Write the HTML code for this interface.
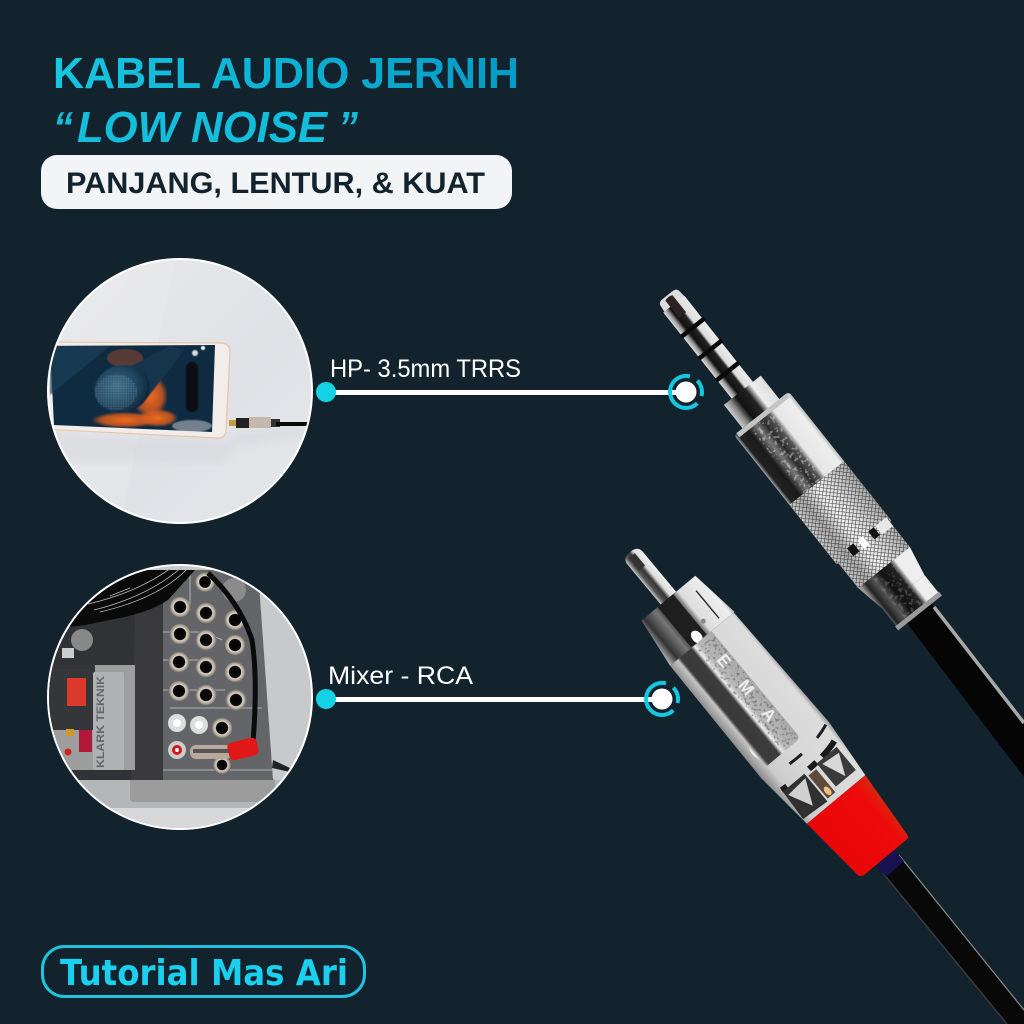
<!DOCTYPE html>
<html><head><meta charset="utf-8"><style>
html,body{margin:0;padding:0;background:#12232d}
svg{display:block}
text{font-family:"Liberation Sans",sans-serif}
</style></head><body>
<svg xmlns="http://www.w3.org/2000/svg" width="1024" height="1024" viewBox="0 0 1024 1024">
<defs>
<linearGradient id="tg" gradientUnits="userSpaceOnUse" x1="53" y1="0" x2="519" y2="0"><stop offset="0" stop-color="#17c6e0"/><stop offset="1" stop-color="#049bc5"/></linearGradient>
<linearGradient id="pin" gradientUnits="userSpaceOnUse" x1="0" y1="-14" x2="0" y2="14"><stop offset="0" stop-color="#eee"/><stop offset=".36" stop-color="#ddd"/><stop offset=".45" stop-color="#222"/><stop offset=".72" stop-color="#111"/><stop offset=".85" stop-color="#999"/><stop offset="1" stop-color="#ddd"/></linearGradient>
<linearGradient id="sleeve" gradientUnits="userSpaceOnUse" x1="0" y1="-24" x2="0" y2="24"><stop offset="0" stop-color="#ddd"/><stop offset=".3" stop-color="#eee"/><stop offset=".45" stop-color="#222"/><stop offset=".7" stop-color="#111"/><stop offset=".85" stop-color="#888"/><stop offset="1" stop-color="#ccc"/></linearGradient>
<linearGradient id="collar" gradientUnits="userSpaceOnUse" x1="0" y1="-35" x2="0" y2="35"><stop offset="0" stop-color="#bbb"/><stop offset=".06" stop-color="#eee"/><stop offset=".34" stop-color="#e6e6e6"/><stop offset=".42" stop-color="#555"/><stop offset=".55" stop-color="#2a2a2a"/><stop offset=".66" stop-color="#777"/><stop offset=".8" stop-color="#1a1a1a"/><stop offset=".95" stop-color="#222"/><stop offset="1" stop-color="#aaa"/></linearGradient>
<linearGradient id="knb" gradientUnits="userSpaceOnUse" x1="0" y1="-35" x2="0" y2="35"><stop offset="0" stop-color="#aaa"/><stop offset=".35" stop-color="#ddd"/><stop offset=".55" stop-color="#f2f2f2"/><stop offset=".8" stop-color="#aaa"/><stop offset="1" stop-color="#ccc"/></linearGradient>
<pattern id="kn" patternUnits="userSpaceOnUse" width="3.6" height="3.6" patternTransform="rotate(45)"><path d="M0 0H3.6M0 0V3.6" stroke="#1c1c1c" stroke-width="1.1" opacity=".8"/></pattern>
<linearGradient id="endg" gradientUnits="userSpaceOnUse" x1="0" y1="-30" x2="0" y2="30"><stop offset="0" stop-color="#eee"/><stop offset=".28" stop-color="#eee"/><stop offset=".38" stop-color="#222"/><stop offset=".6" stop-color="#111"/><stop offset=".75" stop-color="#555"/><stop offset=".9" stop-color="#222"/><stop offset="1" stop-color="#999"/></linearGradient>
<linearGradient id="rpin" gradientUnits="userSpaceOnUse" x1="0" y1="-10" x2="0" y2="10"><stop offset="0" stop-color="#eee"/><stop offset=".35" stop-color="#ddd"/><stop offset=".55" stop-color="#333"/><stop offset=".8" stop-color="#555"/><stop offset="1" stop-color="#ccc"/></linearGradient>
<linearGradient id="cap" gradientUnits="userSpaceOnUse" x1="0" y1="-42" x2="0" y2="42"><stop offset="0" stop-color="#aaa"/><stop offset=".05" stop-color="#eee"/><stop offset=".36" stop-color="#ddd"/><stop offset=".45" stop-color="#444"/><stop offset=".6" stop-color="#222"/><stop offset=".72" stop-color="#777"/><stop offset=".88" stop-color="#333"/><stop offset="1" stop-color="#bbb"/></linearGradient>
<linearGradient id="body" gradientUnits="userSpaceOnUse" x1="0" y1="-44" x2="0" y2="44"><stop offset="0" stop-color="#999"/><stop offset=".06" stop-color="#dcdcdc"/><stop offset=".5" stop-color="#d8d8d8"/><stop offset=".85" stop-color="#ccc"/><stop offset="1" stop-color="#888"/></linearGradient>
<linearGradient id="rec" gradientUnits="userSpaceOnUse" x1="0" y1="-14" x2="0" y2="34"><stop offset="0" stop-color="#a8a8a8"/><stop offset=".42" stop-color="#b8b8b8"/><stop offset=".52" stop-color="#eee"/><stop offset=".6" stop-color="#3c3c3c"/><stop offset=".9" stop-color="#3a3a3a"/><stop offset="1" stop-color="#ededed"/></linearGradient>
<linearGradient id="red" gradientUnits="userSpaceOnUse" x1="0" y1="-38" x2="0" y2="38"><stop offset="0" stop-color="#d62a10"/><stop offset=".2" stop-color="#ee0a0a"/><stop offset="1" stop-color="#e80606"/></linearGradient>
<linearGradient id="wall" x1="0" y1="0" x2="1" y2="1"><stop offset="0" stop-color="#e8e9eb"/><stop offset=".6" stop-color="#dfe2e6"/><stop offset="1" stop-color="#e6e8eb"/></linearGradient>
<radialGradient id="mic" cx=".42" cy=".42" r=".62"><stop offset="0" stop-color="#3f6a84"/><stop offset=".6" stop-color="#1f4660"/><stop offset="1" stop-color="#0c2436"/></radialGradient>
<pattern id="mesh" patternUnits="userSpaceOnUse" width="2.5" height="2.5"><circle cx="1.2" cy="1.2" r=".6" fill="#9cc0d2"/></pattern>
<radialGradient id="blot"><stop offset="0" stop-color="#f26c1c"/><stop offset=".7" stop-color="#e55f1c" stop-opacity=".75"/><stop offset="1" stop-color="#e55f1c" stop-opacity="0"/></radialGradient>
<radialGradient id="jk"><stop offset="0" stop-color="#000"/><stop offset=".55" stop-color="#0a0a0a"/><stop offset=".62" stop-color="#ddd6c9"/><stop offset=".85" stop-color="#a79f94"/><stop offset="1" stop-color="#6d675f"/></radialGradient>
<clipPath id="c1"><circle cx="180" cy="391" r="131"/></clipPath>
<clipPath id="c2"><circle cx="180" cy="697" r="131"/></clipPath>
<filter id="soft"><feGaussianBlur stdDeviation=".5"/></filter>
<filter id="soft2"><feGaussianBlur stdDeviation="4"/></filter>
<filter id="nzW" x="0" y="0" width="100%" height="100%"><feTurbulence type="fractalNoise" baseFrequency=".3" numOctaves="2" seed="3"/><feColorMatrix values="0 0 0 0 1 0 0 0 0 1 0 0 0 0 1 9 0 0 0 -5"/><feComposite in2="SourceAlpha" operator="in"/></filter>
<filter id="nzK" x="0" y="0" width="100%" height="100%"><feTurbulence type="fractalNoise" baseFrequency=".35" numOctaves="2" seed="7"/><feColorMatrix values="0 0 0 0 .1 0 0 0 0 .1 0 0 0 0 .1 9 0 0 0 -5"/><feComposite in2="SourceAlpha" operator="in"/></filter>
</defs>
<rect width="1024" height="1024" fill="#12232d"/>

<!-- Title -->
<text x="53" y="88" font-size="44" font-weight="700" fill="url(#tg)" textLength="466" lengthAdjust="spacingAndGlyphs">KABEL AUDIO JERNIH</text>
<text x="53" y="142" font-size="44" font-weight="700" font-style="italic" fill="#14bddb" textLength="20" lengthAdjust="spacingAndGlyphs">“</text>
<text x="77" y="142" font-size="44" font-weight="700" font-style="italic" fill="#14bddb" textLength="250" lengthAdjust="spacingAndGlyphs">LOW NOISE</text>
<text x="338" y="142" font-size="44" font-weight="700" font-style="italic" fill="#14bddb" textLength="20" lengthAdjust="spacingAndGlyphs">”</text>
<rect x="41" y="155" width="471" height="54" rx="16" fill="#f2f4f5"/>
<text x="66" y="193" font-size="30" font-weight="700" fill="#12232d" textLength="419" lengthAdjust="spacingAndGlyphs">PANJANG, LENTUR, &amp; KUAT</text>

<!-- Phone circle -->
<circle cx="180" cy="391" r="133" fill="#fff"/>
<g clip-path="url(#c1)">
<rect x="45" y="255" width="270" height="270" fill="url(#wall)"/>
<path d="M175 260L120 525H60V260Z" fill="#eef0f1" opacity=".3"/>
<path d="M45 432L228 442L240 432L305 428V436L235 446L226 462H45Z" fill="#cfd2d6" opacity=".4" filter="url(#soft2)"/>
<path d="M40 342L222 343Q230 344 230 352L226 431Q225 438 218 438L40 429Z" fill="#f2ecea" stroke="#e6c6a8" stroke-width="1.2"/>
<path d="M50 346L215 345L212 432L54 425Z" fill="#0f2b42"/>
<g filter="url(#soft)">
<path d="M50 346H110L50 395Z" fill="#1f3e58" opacity=".7"/>
<ellipse cx="150" cy="396" rx="18" ry="22" fill="url(#blot)"/>
<ellipse cx="125" cy="420" rx="34" ry="8" fill="url(#blot)"/>
<ellipse cx="158" cy="418" rx="20" ry="9" fill="url(#blot)"/>
<ellipse cx="125" cy="358" rx="18" ry="9" fill="#b04e28" opacity=".45"/>
<ellipse cx="192" cy="426" rx="20" ry="6" fill="#d9d4dc" opacity=".5"/>
<path d="M170 346L118 372L143 404L184 350Z" fill="#15364c"/>
<ellipse cx="122" cy="389" rx="28" ry="24" fill="url(#mic)" transform="rotate(-15 122 389)"/>
<ellipse cx="116" cy="392" rx="21" ry="18" fill="url(#mesh)" opacity=".55"/>
<rect x="186" y="362" width="12" height="50" rx="6" fill="#090d12"/>
<circle cx="195" cy="353" r="3" fill="#ddd"/>
<circle cx="203" cy="348" r="2" fill="#fff"/>
</g>
<rect x="229" y="420" width="8" height="6" fill="#c79a45"/>
<rect x="236" y="418" width="13" height="10" fill="#222"/>
<rect x="249" y="417" width="22" height="11" fill="#c5b9ad"/>
<rect x="271" y="419" width="9" height="8" fill="#333"/>
<rect x="276" y="422" width="32" height="4" fill="#0a0a0a"/>
</g>

<!-- Mixer circle -->
<circle cx="180" cy="697" r="133" fill="#fff"/>
<g clip-path="url(#c2)">
<rect x="45" y="560" width="270" height="270" fill="#c8c9ca"/>
<rect x="45" y="780" width="270" height="50" fill="#b5b6b7"/>
<rect x="45" y="808" width="270" height="24" fill="#d8d8d8"/>
<rect x="130" y="778" width="145" height="24" rx="4" fill="#9c9c9c"/>
<path d="M45 770V600L150 600L137 620V780H45Z" fill="#303236"/>
<path d="M135 615L163 590V780H131Z" fill="#3a3a3c"/>
<path d="M163 570L258 570L273 780H163Z" fill="#646568"/>
<rect x="45" y="665" width="90" height="105" fill="#9e9e9e"/>
<rect x="45" y="665" width="50" height="65" fill="#35363a"/>
<rect x="93" y="672" width="31" height="98" rx="2" fill="#b0b1b3"/>
<rect x="67" y="678" width="19" height="28" fill="#d93a2a"/>
<text x="0" y="0" transform="translate(104,768) rotate(-90)" font-size="11" font-weight="700" fill="#666" textLength="92" lengthAdjust="spacingAndGlyphs">KLARK TEKNIK</text>
<rect x="79" y="730" width="13" height="22" fill="#b01a38"/>
<rect x="66" y="729" width="8" height="7" fill="#d29a2c"/>
<circle cx="68" cy="752" r="3.5" fill="#d02020"/>
<rect x="62" y="648" width="12" height="10" fill="#ccc"/>
<circle cx="82" cy="640" r="11" fill="#888"/>
<path d="M163 632H205L222 640M163 660H210M163 690H225M170 708H262M163 770H272M190 575V610" stroke="#c8c8c8" stroke-width=".8" fill="none"/>
<g>
<circle cx="180" cy="607" r="10.5" fill="url(#jk)"/><circle cx="206" cy="613" r="10.5" fill="url(#jk)"/><circle cx="235" cy="620" r="10.5" fill="url(#jk)"/>
<circle cx="180" cy="634" r="10.5" fill="url(#jk)"/><circle cx="206" cy="640" r="10.5" fill="url(#jk)"/><circle cx="235" cy="645" r="10.5" fill="url(#jk)"/>
<circle cx="179" cy="662" r="10.5" fill="url(#jk)"/><circle cx="206" cy="667" r="10.5" fill="url(#jk)"/><circle cx="235" cy="672" r="10.5" fill="url(#jk)"/>
<circle cx="179" cy="691" r="10.5" fill="url(#jk)"/><circle cx="206" cy="695" r="10.5" fill="url(#jk)"/><circle cx="236" cy="700" r="10.5" fill="url(#jk)"/>
<circle cx="205" cy="582" r="10" fill="url(#jk)"/><circle cx="234" cy="590" r="12" fill="#8b8b8b"/>
<circle cx="222" cy="728" r="10.5" fill="url(#jk)"/><circle cx="222" cy="765" r="9" fill="url(#jk)"/>
<circle cx="177" cy="723" r="9" fill="#ddd"/><circle cx="177" cy="723" r="4" fill="#fff"/>
<circle cx="199" cy="725" r="9" fill="#ddd"/><circle cx="199" cy="725" r="4" fill="#fff"/>
<circle cx="177" cy="750" r="9" fill="#ccc"/><circle cx="177" cy="750" r="5" fill="#d01818"/><circle cx="177" cy="750" r="2" fill="#fff"/>
</g>
<path d="M45 570H195L168 600Q150 612 120 618L85 625L45 630Z" fill="#0a0a0a"/>
<path d="M88 604Q140 592 175 565M94 610Q150 596 183 566M100 612Q160 598 188 568M110 596L130 588" stroke="#bbb" stroke-width=".8" fill="none"/>
<path d="M208 573Q240 603 252 640Q258 680 253 742" stroke="#0b0b0b" stroke-width="5" fill="none"/>
<rect x="190" y="745" width="42" height="14" rx="6" fill="#b9a99a"/>
<rect x="193" y="749" width="36" height="4" fill="#555"/>
<rect x="228" y="740" width="30" height="18" rx="5" fill="#e01818" transform="rotate(-14 243 749)"/>
<path d="M273 760L290 768V772L272 768Z" fill="#222"/>
</g>

<!-- Labels and connectors -->
<text x="330" y="377" font-size="25" fill="#fff" textLength="191" lengthAdjust="spacingAndGlyphs">HP- 3.5mm TRRS</text>
<rect x="326" y="390" width="360" height="5" fill="#fff"/>
<circle cx="326" cy="392" r="10" fill="#14d2e6"/>
<text x="328" y="684" font-size="25" fill="#fff" textLength="145" lengthAdjust="spacingAndGlyphs">Mixer - RCA</text>
<rect x="326" y="697" width="336" height="5" fill="#fff"/>
<circle cx="326" cy="699" r="10" fill="#14d2e6"/>

<!-- Cables -->
<path d="M925 595L1024 723V777L903 618Z" fill="#050505"/>
<path d="M934 607L1024 723" stroke="#a8a8a8" stroke-width="3.500" fill="none"/>
<path d="M890 845L1024 1010V1024H1007L873 862Z" fill="#080808"/>
<path d="M899 855L1024 1010" stroke="#8a8a8a" stroke-width="1.2" fill="none"/>
<path d="M882 872L1007 1024" stroke="#3a3a3a" stroke-width="1.5" fill="none"/>
<path d="M890 845L873 862L886 877L904 861Z" fill="#1a1250"/>

<!-- TRRS plug -->
<g transform="translate(668,296) rotate(51.5)">
<path d="M4 -12Q-1 -12 -1 -6V6Q-1 12 4 12L14 13V-13Z" fill="#ddd"/>
<rect x="10" y="-13" width="116" height="27" fill="url(#pin)"/>
<path d="M2 -4H24V5H2Q0 0 2 -4Z" fill="#2c2224"/>
<rect x="38" y="-15" width="4.500" height="30" fill="#0a0a0a"/>
<rect x="66" y="-15" width="4.500" height="30" fill="#0a0a0a"/>
<rect x="94" y="-15" width="4.500" height="30" fill="#0a0a0a"/>
<rect x="120" y="-23" width="36" height="47" fill="url(#sleeve)"/>
<path d="M154 -35H239V35H154Q150 35 150 30V-30Q150 -35 154 -35Z" fill="url(#collar)"/>
<rect x="156" y="-8" width="83" height="26" fill="#fff" filter="url(#nzW)" opacity=".4"/>
<rect x="150" y="-32" width="5" height="64" fill="#c4c4c4"/>
<rect x="239" y="-35" width="76" height="70" fill="url(#knb)"/>
<rect x="239" y="-35" width="76" height="70" fill="url(#kn)"/>
<rect x="315" y="-33" width="32" height="66" fill="url(#knb)"/>
<rect x="315" y="-33" width="32" height="66" fill="url(#kn)"/>
<rect x="309" y="-33" width="11" height="14" fill="#e8e8e8"/>
<rect x="309" y="-17" width="10" height="7" fill="#111"/>
<rect x="309" y="-3" width="11" height="7" fill="#fff"/>
<rect x="309" y="9" width="10" height="8" fill="#111"/>
<path d="M347 -33L378 -27V27L347 33Z" fill="url(#endg)"/>
<path d="M378 -27H402V27H378Z" fill="url(#endg)"/>
<rect x="350" y="-9" width="50" height="24" fill="#fff" filter="url(#nzW)" opacity=".2"/>
<rect x="400" y="-28" width="5" height="56" fill="#9a9a9a"/>
</g>

<!-- RCA plug -->
<g transform="translate(630,552) rotate(50.2)">
<path d="M60 -10H8Q0 -10 0 0Q0 10 8 10H60Z" fill="url(#rpin)"/>
<path d="M4 -3H20V5H4Z" fill="#333"/>
<path d="M60 -35L113 -42V42L60 35Z" fill="url(#cap)"/>
<path d="M72 -26L108 -26" stroke="#222" stroke-width="1.3"/>
<path d="M60 -6H112V14H60Z" fill="#1e1e1e"/>
<circle cx="100" cy="-12" r="2.500" fill="#888"/>
<ellipse cx="108" cy="3" rx="7" ry="5" fill="#fff"/>
<path d="M113 -41L258 -44L322 -38V38L258 44L113 42Z" fill="url(#body)"/>
<path d="M113 -12H246Q252 -12 252 -6V32L240 34Q232 38 224 32H113Z" fill="url(#rec)"/>
<rect x="118" y="-11" width="132" height="22" fill="#333" filter="url(#nzK)" opacity=".55"/>
<text x="0" y="0" transform="translate(138,3)" font-size="17" font-weight="700" fill="#eee" textLength="82" lengthAdjust="spacing">EMA</text>
<path d="M258 -40Q270 -10 262 38" stroke="#1f1f1f" stroke-width="3" fill="none" stroke-dasharray="16 22 16 30"/>
<path d="M276 -36Q284 -14 280 36" stroke="#1a1a1a" stroke-width="6" fill="none" stroke-dasharray="20 8 10 28"/>
<path d="M282 8L318 8L316 38L282 36Z" fill="#303030"/>
<path d="M286 10L312 22L288 34Z" fill="#d0d0d0"/>
<path d="M282 -8H312V-34H282Z" fill="#3a3a3a"/>
<path d="M286 -12L310 -22L288 -32Z" fill="#d8d8d8"/>
<path d="M286 -4H316V6H286Z" fill="#5b4a3b"/>
<ellipse cx="310" cy="1" rx="5" ry="3" fill="#f0c080"/>
<path d="M322 -38L395 -32Q398 -32 398 -28V26Q398 32 392 32L322 38Z" fill="url(#red)"/>
</g>

<!-- Targets -->
<g fill="none" stroke="#14c8e2" stroke-width="4" stroke-linecap="butt">
<path d="M689.9 376.4A16 16 0 1 0 697.3 403.3"/>
<path d="M697.3 380.7A16 16 0 0 1 701.5 396"/>
<path d="M665.9 683.4A16 16 0 1 0 673.3 710.3"/>
<path d="M673.3 687.7A16 16 0 0 1 677.5 703"/>
</g>
<circle cx="686" cy="392" r="10.5" fill="#fff"/>
<circle cx="662" cy="699" r="10.5" fill="#fff"/>

<!-- Footer -->
<rect x="42.500" y="946.500" width="322" height="50" rx="22" fill="none" stroke="#1ec4e0" stroke-width="3"/>
<text x="60" y="985" font-size="36" font-weight="700" fill="#1ad0ee" textLength="288" lengthAdjust="spacingAndGlyphs" style="font-family:'DejaVu Sans',sans-serif">Tutorial Mas Ari</text>
</svg>
</body></html>
